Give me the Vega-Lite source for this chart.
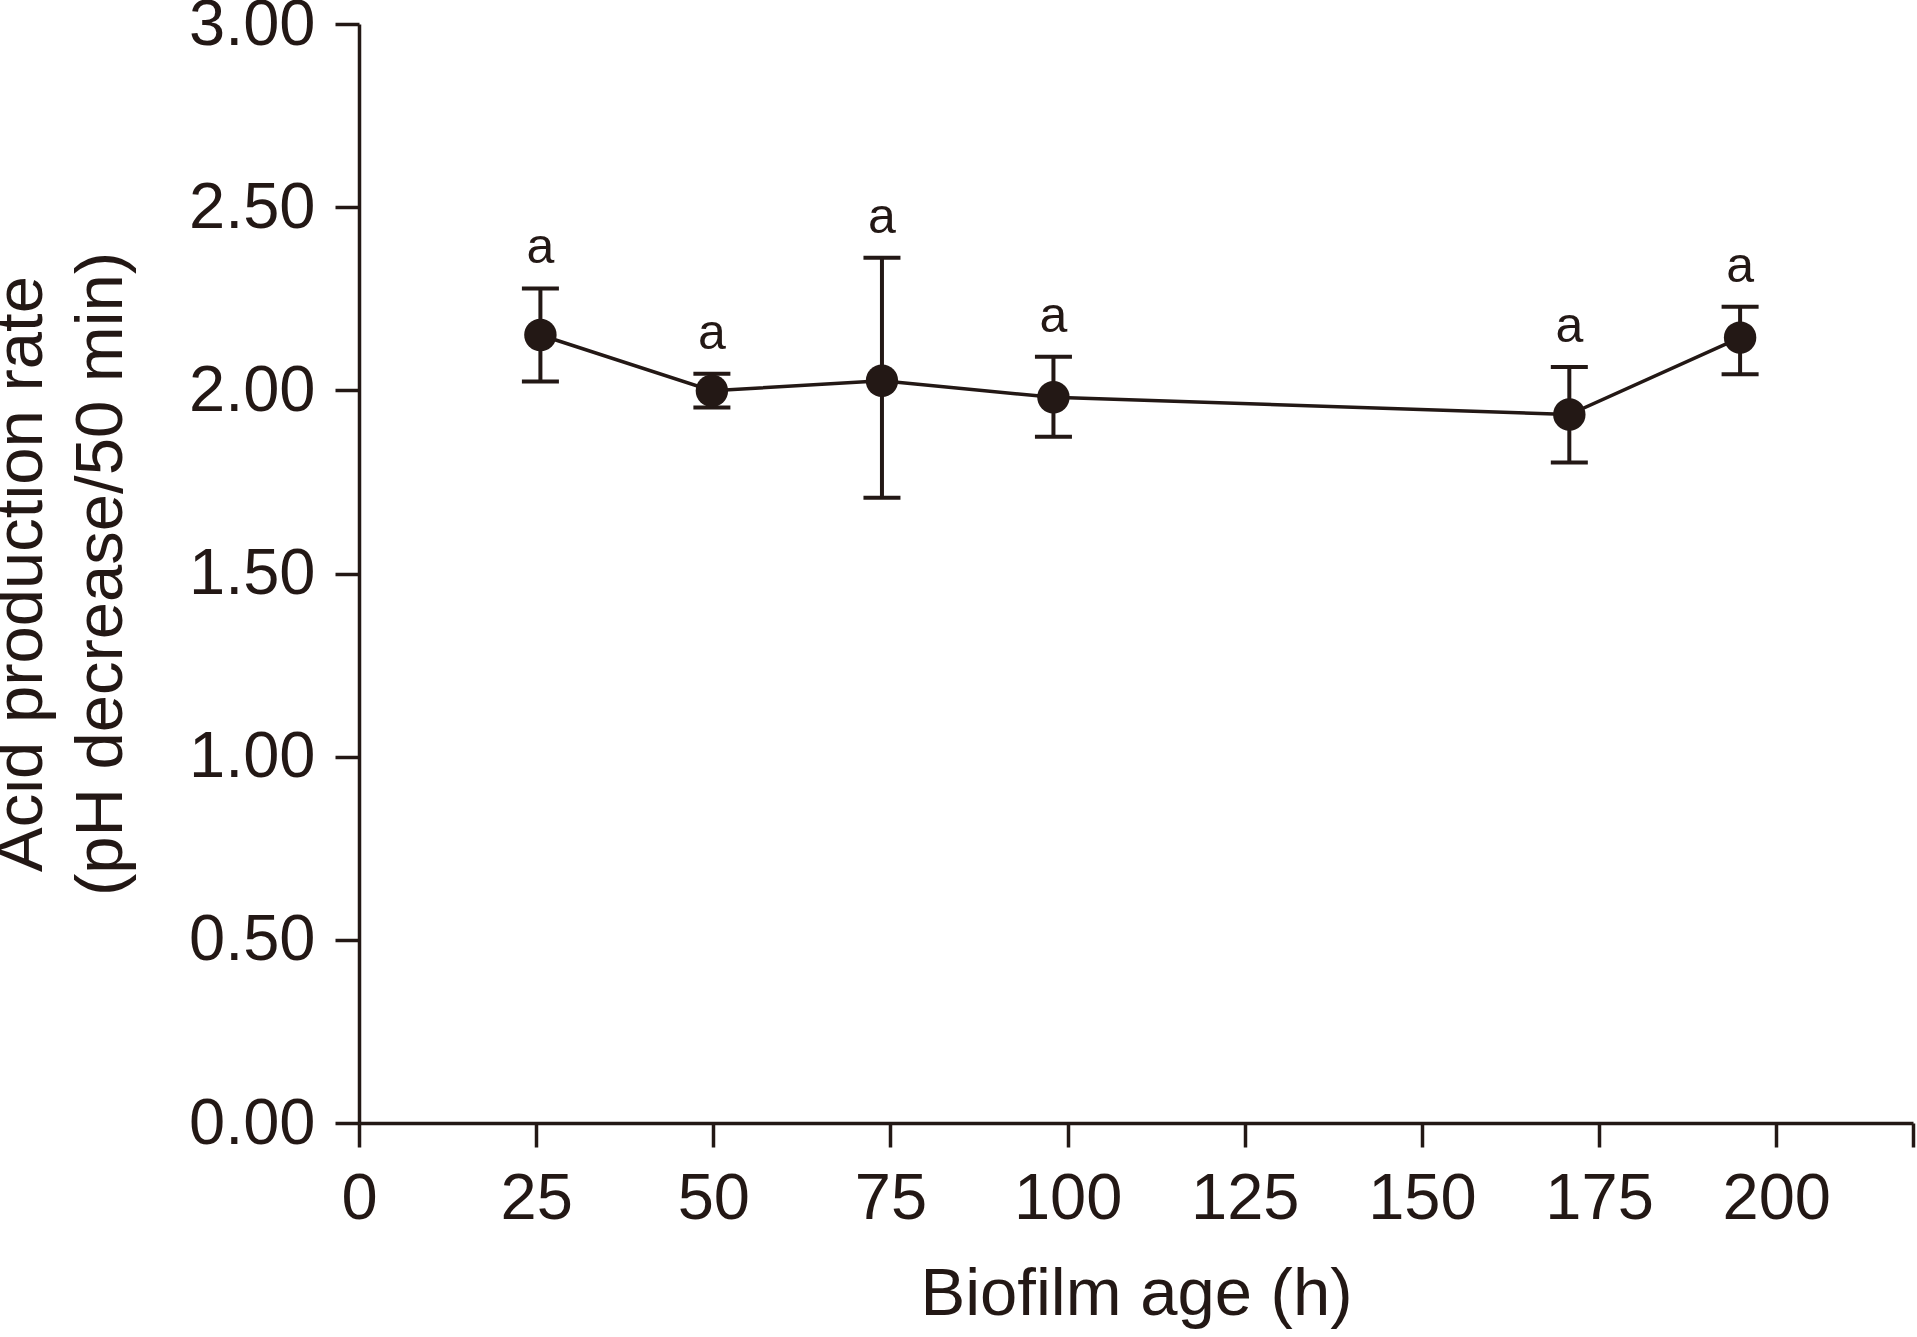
{
  "$schema": "https://vega.github.io/schema/vega-lite/v6.json",
  "width": 1554,
  "height": 1099,
  "autosize": "none",
  "padding": {"left": 359, "top": 24, "right": 4, "bottom": 214},
  "background": "white",
  "data": {
    "values": [
      {"age": 25.6, "rate": 2.151, "lower": 2.024, "upper": 2.278, "label": "a"},
      {"age": 49.8, "rate": 1.999, "lower": 1.953, "upper": 2.045, "label": "a"},
      {"age": 73.8, "rate": 2.026, "lower": 1.707, "upper": 2.362, "label": "a"},
      {"age": 98.0, "rate": 1.981, "lower": 1.873, "upper": 2.092, "label": "a"},
      {"age": 170.8, "rate": 1.934, "lower": 1.803, "upper": 2.064, "label": "a"},
      {"age": 194.9, "rate": 2.144, "lower": 2.044, "upper": 2.228, "label": "a"}
    ]
  },
  "config": {
    "view": {"stroke": null},
    "font": "Liberation Sans",
    "axis": {
      "grid": false,
      "domainColor": "#231815",
      "domainWidth": 3.5,
      "tickColor": "#231815",
      "tickWidth": 3.5,
      "tickSize": 24,
      "labelFont": "Liberation Sans",
      "labelFontSize": 65,
      "labelColor": "#231815",
      "labelPadding": 20,
      "labelFlush": false,
      "labelOverlap": false,
      "titleFont": "Liberation Sans",
      "titleFontSize": 67,
      "titleFontWeight": "normal",
      "titleColor": "#231815"
    }
  },
  "layer": [
    {
      "mark": {"type": "line", "color": "#231815", "strokeWidth": 3.5},
      "encoding": {
        "x": {
          "field": "age",
          "type": "quantitative",
          "title": "Biofilm age (h)",
          "scale": {"domain": [0, 219.3], "nice": false, "zero": false},
          "axis": {
            "values": [0, 25, 50, 75, 100, 125, 150, 175, 200, 219.3],
            "labelExpr": "datum.value > 210 ? '' : datum.label",
            "titlePadding": 30
          }
        },
        "y": {
          "field": "rate",
          "type": "quantitative",
          "title": ["Acid production rate", "(pH decrease/50 min)"],
          "scale": {"domain": [0, 3], "nice": false},
          "axis": {
            "values": [0, 0.5, 1, 1.5, 2, 2.5, 3],
            "format": ".2f",
            "titleLineHeight": 80,
            "titlePadding": 53
          }
        }
      }
    },
    {
      "mark": {
        "type": "errorbar",
        "ticks": {"color": "#231815", "opacity": 1},
        "rule": {"color": "#231815", "opacity": 1},
        "thickness": 4,
        "size": 37,
        "color": "#231815"
      },
      "encoding": {
        "x": {"field": "age", "type": "quantitative", "title": "Biofilm age (h)"},
        "y": {"field": "lower", "type": "quantitative", "title": ["Acid production rate", "(pH decrease/50 min)"]},
        "y2": {"field": "upper"}
      }
    },
    {
      "mark": {"type": "point", "filled": true, "size": 1050, "opacity": 1, "color": "#231815"},
      "encoding": {
        "x": {"field": "age", "type": "quantitative", "title": "Biofilm age (h)"},
        "y": {"field": "rate", "type": "quantitative", "title": ["Acid production rate", "(pH decrease/50 min)"]}
      }
    },
    {
      "mark": {"type": "text", "fontSize": 50, "font": "Liberation Sans", "color": "#231815", "baseline": "middle", "dy": -40},
      "encoding": {
        "x": {"field": "age", "type": "quantitative", "title": "Biofilm age (h)"},
        "y": {"field": "upper", "type": "quantitative", "title": ["Acid production rate", "(pH decrease/50 min)"]},
        "text": {"field": "label"}
      }
    }
  ]
}
